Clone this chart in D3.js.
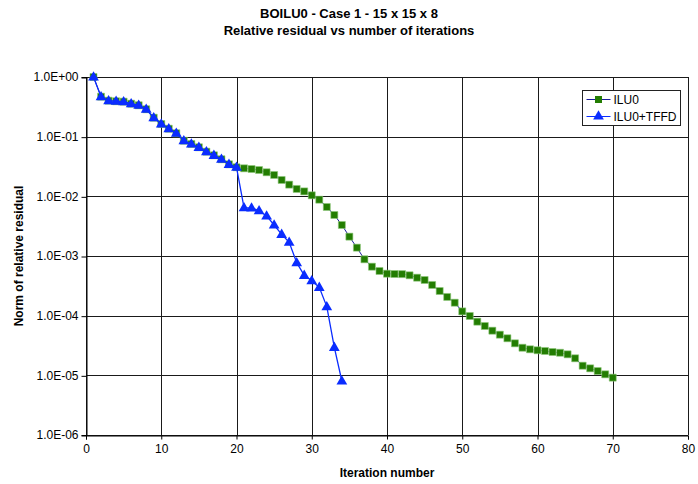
<!DOCTYPE html>
<html>
<head>
<meta charset="utf-8">
<script src="https://cdn.jsdelivr.net/npm/d3@7"></script>
<style>
  html, body { margin: 0; padding: 0; background: #fff; }
  svg { display: block; font-family: "Liberation Sans", Arial, sans-serif; }
</style>
</head>
<body>
<svg id="chart" width="698" height="484"></svg>
<script>
// Relative residual per iteration for the two solvers
const iterILU0 = d3.range(1, 71);
const resILU0 = [
  1.0, 0.468, 0.401, 0.392, 0.386, 0.357, 0.336, 0.288, 0.208, 0.163,
  0.136, 0.114, 0.0855, 0.0754, 0.0664, 0.0560, 0.0487, 0.0418, 0.0344, 0.0307,
  0.0295, 0.0287, 0.0276, 0.0253, 0.0228, 0.0188, 0.0157, 0.0133, 0.0121, 0.0104,
  0.00879, 0.00663, 0.00487, 0.00331, 0.00211, 0.00138, 0.000881, 0.000662, 0.000561, 0.000505,
  0.000499, 0.000497, 0.000475, 0.000433, 0.000396, 0.000327, 0.000259, 0.000206, 0.000165, 0.000118,
  9.88e-5, 7.93e-5, 6.71e-5, 5.60e-5, 4.80e-5, 4.18e-5, 3.44e-5, 2.90e-5, 2.73e-5, 2.63e-5,
  2.56e-5, 2.46e-5, 2.39e-5, 2.25e-5, 1.93e-5, 1.45e-5, 1.31e-5, 1.18e-5, 1.04e-5, 9.14e-6
];
const iterTFFD = d3.range(1, 35);
const resTFFD = [
  1.0, 0.468, 0.401, 0.392, 0.386, 0.357, 0.336, 0.288, 0.208, 0.163,
  0.136, 0.114, 0.0855, 0.0754, 0.0664, 0.0560, 0.0487, 0.0418, 0.0344, 0.0307,
  0.00645, 0.00640, 0.00574, 0.00469, 0.00331, 0.00231, 0.00170, 0.000773, 0.000475, 0.000386,
  0.000299, 0.000142, 2.95e-5, 8.04e-6
];
const seriesNames = ["ILU0", "ILU0+TFFD"];
const xTicks = [0, 10, 20, 30, 40, 50, 60, 70, 80];
const yTicks = [1, 1e-1, 1e-2, 1e-3, 1e-4, 1e-5, 1e-6];

const svg = d3.select("#chart");
const plot = { left: 86, right: 688, top: 77, bottom: 435 };

const x = d3.scaleLinear().domain([0, 80]).range([plot.left, plot.right]);
const y = d3.scaleLog().domain([1e-6, 1]).range([plot.bottom, plot.top]);

const fmtSci = v => {
  const e = Math.round(Math.log10(v));
  return "1.0E" + (e >= 0 ? "+" : "-") + String(Math.abs(e)).padStart(2, "0");
};

// Titles
svg.append("text").attr("x", 349).attr("y", 18).attr("text-anchor", "middle")
  .attr("font-size", 13).attr("font-weight", "bold").text("BOILU0 - Case 1 - 15 x 15 x 8");
svg.append("text").attr("x", 349).attr("y", 35).attr("text-anchor", "middle")
  .attr("font-size", 13).attr("font-weight", "bold").text("Relative residual vs number of iterations");

// Grid
const grid = svg.append("g").attr("stroke", "#1a1a1a").attr("stroke-width", 1).attr("shape-rendering", "crispEdges");
grid.selectAll(".gx").data(xTicks).join("line")
  .attr("x1", d => Math.round(x(d)) + 0.5).attr("x2", d => Math.round(x(d)) + 0.5)
  .attr("y1", plot.top).attr("y2", plot.bottom);
grid.selectAll(".gy").data(yTicks).join("line")
  .attr("y1", d => Math.round(y(d)) + 0.5).attr("y2", d => Math.round(y(d)) + 0.5)
  .attr("x1", plot.left).attr("x2", plot.right);

// Axes
const xAxis = svg.append("g").attr("transform", `translate(0,${Math.round(plot.bottom) + 0.5})`)
  .call(d3.axisBottom(x).tickValues(xTicks).tickSize(4).tickPadding(5).tickFormat(d3.format("d")));
const yAxis = svg.append("g").attr("transform", `translate(${plot.left + 0.5},0)`)
  .call(d3.axisLeft(y).tickValues(yTicks).tickSize(5).tickPadding(3).tickFormat(fmtSci));
[xAxis, yAxis].forEach(g => {
  g.select(".domain").attr("stroke", "#000");
  g.selectAll(".tick line").attr("stroke", "#000");
  g.selectAll("text").attr("font-size", 12).attr("fill", "#000")
    .attr("font-family", "'Liberation Sans', Arial, sans-serif");
});
yAxis.selectAll(".tick line").attr("y1", 0.5).attr("y2", 0.5);

// Axis titles
svg.append("text").attr("x", 387).attr("y", 477).attr("text-anchor", "middle")
  .attr("font-size", 12).attr("font-weight", "bold").text("Iteration number");
svg.append("text").attr("transform", "translate(23,256) rotate(-90)").attr("text-anchor", "middle")
  .attr("font-size", 12).attr("font-weight", "bold").text("Norm of relative residual");

// Series
const ilu = iterILU0.map((it, i) => ({ it, v: resILU0[i] }));
const tffd = iterTFFD.map((it, i) => ({ it, v: resTFFD[i] }));
const line = d3.line().x(d => x(d.it)).y(d => y(d.v));

const squareColor = "#237d02";
const triColor = "#0a2cff";
const sqSym = d3.symbol().type(d3.symbolSquare).size(49);
const triSym = d3.symbol().type(d3.symbolTriangle).size(50);

svg.append("path").datum(ilu).attr("d", line).attr("fill", "none").attr("stroke", "#1a1a9a").attr("stroke-width", 1);
svg.append("g").selectAll("path").data(ilu).join("path")
  .attr("transform", d => `translate(${x(d.it)},${y(d.v)})`)
  .attr("d", sqSym).attr("fill", squareColor).attr("stroke", "#8fc77a").attr("stroke-width", 0.6);

svg.append("path").datum(tffd).attr("d", line).attr("fill", "none").attr("stroke", triColor).attr("stroke-width", 1.3);
svg.append("g").selectAll("path").data(tffd).join("path")
  .attr("transform", d => `translate(${x(d.it)},${y(d.v) + 0.5})`)
  .attr("d", triSym).attr("fill", triColor);

// Legend
const lg = svg.append("g").attr("transform", "translate(582.5,90.5)");
lg.append("rect").attr("width", 98).attr("height", 35).attr("fill", "#fff")
  .attr("stroke", "#222").attr("stroke-width", 1);
const entries = [
  { name: seriesNames[0], color: "#1a1a9a", sym: sqSym, fill: squareColor },
  { name: seriesNames[1], color: triColor, sym: triSym, fill: triColor }
];
entries.forEach((e, i) => {
  const cy = 9 + i * 17;
  lg.append("line").attr("x1", 4).attr("x2", 28).attr("y1", cy).attr("y2", cy)
    .attr("stroke", e.color).attr("stroke-width", 1);
  lg.append("path").attr("transform", `translate(16,${cy})`).attr("d", e.sym).attr("fill", e.fill);
  lg.append("text").attr("x", 31).attr("y", cy + 4).attr("font-size", 12).text(e.name);
});
</script>
</body>
</html>
